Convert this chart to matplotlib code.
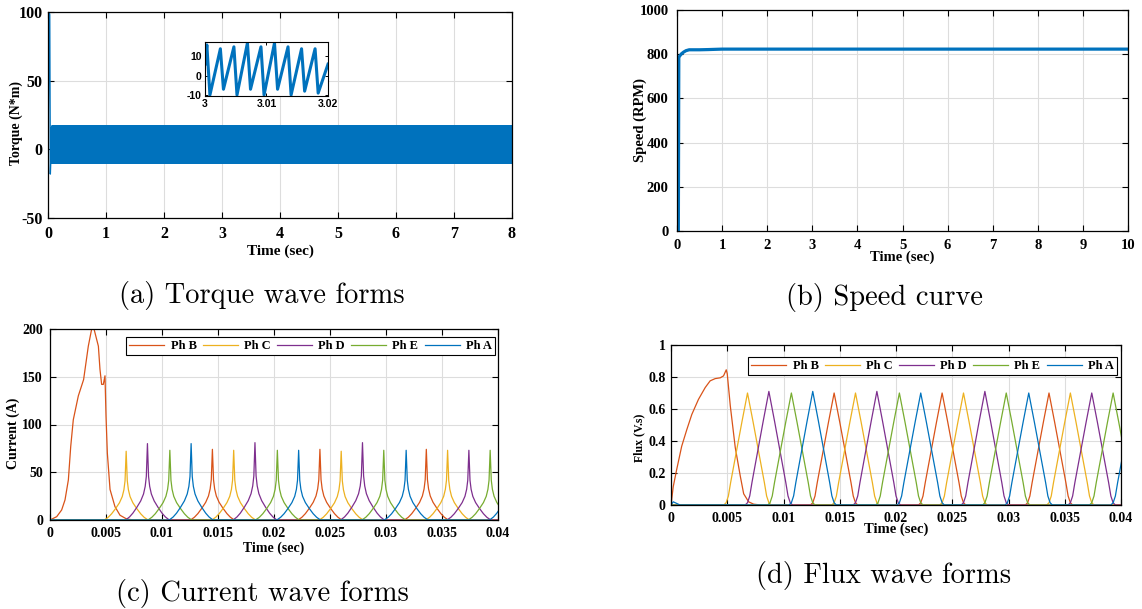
import numpy as np
import matplotlib.pyplot as plt
from matplotlib.ticker import FuncFormatter

plt.rcParams['font.family'] = ['Liberation Serif', 'DejaVu Serif']
plt.rcParams['font.weight'] = 'bold'
plt.rcParams['axes.unicode_minus'] = False

W, H = 1142, 609

# ---- torque: start-up transient, then ripple
torque_start_t = [0.0, 0.02, 0.03, 0.04, 0.06]
torque_start_v = [0, 100, 98, -18, 6]
zoom_t = [3.0, 3.0003, 3.0008, 3.0025, 3.0030, 3.0047, 3.0052, 3.0069, 3.0074,
          3.0091, 3.0096, 3.0113, 3.0118, 3.0135, 3.0140, 3.0157, 3.0162,
          3.0179, 3.0184, 3.02]
zoom_v = [6, 16, -10, 14, -7, 15, -10, 17, -7, 15, -10, 17, -7, 15, -10, 14, -8,
          14, -9, 6]

# ---- speed
speed_t = [0, 0.03, 0.035, 0.04, 0.06, 0.1, 0.15, 0.2, 0.27, 0.5, 0.7, 1.0, 10.0]
speed_v = [0, 0, 400, 785, 792, 802, 810, 816, 820, 820, 821, 823, 823]

# ---- phase currents / fluxes
phases = ['B', 'C', 'D', 'E', 'A']
colors = {'B': '#D95319', 'C': '#EDB120', 'D': '#7E2F8E', 'E': '#77AC30', 'A': '#0072BD'}

ib_start_t = [0, 0.0006, 0.00104, 0.00134, 0.00164, 0.00185, 0.00208, 0.00253, 0.003,
              0.00342, 0.00372, 0.00393, 0.00432, 0.00446, 0.00461, 0.00476, 0.00491,
              0.005, 0.00512, 0.00536, 0.0058, 0.00625, 0.00685, 0.0075]
ib_start_v = [0, 3.5, 10.5, 21, 42, 77, 105, 130, 147, 182, 200, 200, 182, 158, 142,
              142, 151, 109, 70, 32, 14, 5, 1, 0]

fb_start_t = [0, 0.0002, 0.0005, 0.00095, 0.0014, 0.00185, 0.00244, 0.00304, 0.00348,
              0.00393, 0.00438, 0.00467, 0.00491, 0.005, 0.00527, 0.00571, 0.00616,
              0.00646, 0.0069, 0.00735, 0.008]
fb_start_v = [0, 0.115, 0.22, 0.367, 0.47, 0.566, 0.66, 0.734, 0.776, 0.79, 0.795,
              0.807, 0.845, 0.82, 0.62, 0.36, 0.18, 0.07, 0.02, 0.005, 0]
fa_start_t = [0, 0.0002, 0.0008]
fa_start_v = [0, 0.02, 0]

peak_t = [0.0068, 0.0087, 0.0107, 0.0126, 0.0145, 0.0164, 0.0183, 0.0203, 0.0222, 0.0241,
          0.0260, 0.0279, 0.0298, 0.0318, 0.0336, 0.0355, 0.0374, 0.0393, 0.0412]
peak_phase = ['C', 'D', 'E', 'A', 'B', 'C', 'D', 'E', 'A', 'B',
              'C', 'D', 'E', 'A', 'B', 'C', 'D', 'E', 'A']
current_peak = [72, 80, 73, 80, 74, 73, 81, 73, 73, 74, 72, 81, 73, 73, 74, 73, 73, 73, 80]
flux_peak = [0.70, 0.71, 0.70, 0.71, 0.70, 0.70, 0.71, 0.70, 0.70, 0.70,
             0.70, 0.71, 0.70, 0.70, 0.70, 0.70, 0.70, 0.70, 0.70]

# pulse outlines (ms from peak, fraction of peak)
cur_dt = [-1.95, -1.6, -1.3, -0.95, -0.6, -0.35, -0.2, -0.1, 0,
          0.1, 0.2, 0.35, 0.6, 0.95, 1.3, 1.6, 1.95]
cur_frac = [0, 0.04, 0.09, 0.165, 0.25, 0.34, 0.44, 0.57, 1.0,
            0.57, 0.44, 0.34, 0.25, 0.165, 0.09, 0.04, 0]
flux_dt = [-2.1, -1.9, -1.7, -1.5, -1.0, -0.5, 0, 0.5, 1.0, 1.5, 1.7, 1.9, 2.1]
flux_frac = [0, 0.02, 0.08, 0.2, 0.47, 0.74, 1.0, 0.74, 0.47, 0.2, 0.08, 0.02, 0]


def phase_trace(ph, heights, dt, frac, start_t, start_v):
    t = list(start_t)
    v = list(start_v)
    for tp, p, h in zip(peak_t, peak_phase, heights):
        if p != ph:
            continue
        t += [tp + d / 1000 for d in dt]
        v += [h * f for f in frac]
    t.append(0.045)
    v.append(0)
    return t, v


def style_axes(ax, size):
    ax.tick_params(direction='in', top=True, right=True, length=4, width=0.8,
                   labelsize=size)
    ax.grid(True, color='#dddddd', linewidth=0.8)
    ax.set_axisbelow(True)
    for s in ax.spines.values():
        s.set_linewidth(0.9)


fmt = FuncFormatter(lambda x, pos: '%g' % x)

fig = plt.figure(figsize=(W / 100, H / 100), dpi=100)


def add_ax(l, t, r, b):
    return fig.add_axes([l / W, 1 - b / H, (r - l) / W, (b - t) / H])


# (a) torque
ax = add_ax(48, 12, 512, 218)
cycle_t = np.array(zoom_t[1:-1]) - 3.0
n_rep = int(8.0 / 0.0198) + 2
tt = np.concatenate([torque_start_t, (0.06 + np.arange(n_rep)[:, None] * 0.0198 + cycle_t).ravel()])
tv = np.concatenate([torque_start_v, np.tile(zoom_v[1:-1], n_rep)])
ax.plot(tt, tv, color='#0072BD', linewidth=1.0)
ax.set_xlim(0, 8)
ax.set_ylim(-50, 100)
ax.set_xticks(range(0, 9))
ax.set_yticks([-50, 0, 50, 100])
style_axes(ax, 11.5)
ax.tick_params(axis='x', pad=6)
ax.tick_params(axis='y', pad=4)
ax.set_xlabel('Time (sec)', fontsize=11, fontweight='bold')
ax.set_ylabel('Torque (N*m)', fontsize=10, fontweight='bold')
ax.xaxis.set_label_coords(0.5, -0.13)
ax.yaxis.set_label_coords(-0.054, 0.46)

ins = add_ax(205, 42, 328, 96)
ins.plot(zoom_t, zoom_v, color='#0072BD', linewidth=2.2)
ins.set_xlim(3, 3.02)
ins.set_ylim(-10.5, 17.5)
ins.set_xticks([3, 3.01, 3.02])
ins.set_yticks([-10, 0, 10])
ins.xaxis.set_major_formatter(fmt)
ins.tick_params(direction='in', top=True, right=True, length=2.5, width=0.7, pad=2.5,
                labelsize=7.5)
for lab in ins.get_xticklabels() + ins.get_yticklabels():
    lab.set_fontfamily('Liberation Sans')
    lab.set_fontweight('bold')

# (b) speed
ax = add_ax(677, 10, 1128, 231)
ax.plot(speed_t, speed_v, color='#0072BD', linewidth=2.3)
ax.set_xlim(0, 10)
ax.set_ylim(0, 1000)
ax.set_xticks(range(0, 11))
ax.set_yticks(range(0, 1001, 200))
style_axes(ax, 10.5)
ax.tick_params(axis='x', pad=6)
ax.tick_params(axis='y', pad=6)
ax.set_xlabel('Time (sec)', fontsize=10.5, fontweight='bold')
ax.set_ylabel('Speed (RPM)', fontsize=10.5, fontweight='bold')
ax.xaxis.set_label_coords(0.5, -0.09)
ax.yaxis.set_label_coords(-0.0665, 0.5)

# (c) currents
ax = add_ax(50, 329, 498, 520)
for ph in phases:
    st, sv = (ib_start_t, ib_start_v) if ph == 'B' else ([0], [0])
    t, v = phase_trace(ph, current_peak, cur_dt, cur_frac, st, sv)
    ax.plot(t, v, color=colors[ph], linewidth=0.9, label='Ph ' + ph)
ax.set_xlim(0, 0.04)
ax.set_ylim(0, 200)
ax.set_xticks(np.linspace(0, 0.04, 9))
ax.set_yticks(range(0, 201, 50))
ax.xaxis.set_major_formatter(fmt)
style_axes(ax, 10)
ax.tick_params(axis='x', pad=5)
ax.tick_params(axis='y', pad=5)
ax.set_xlabel('Time (sec)', fontsize=10, fontweight='bold')
ax.set_ylabel('Current (A)', fontsize=10, fontweight='bold')
ax.xaxis.set_label_coords(0.5, -0.115)
ax.yaxis.set_label_coords(-0.067, 0.455)
leg = ax.legend(ncol=5, loc='upper right', bbox_to_anchor=(0.993, 0.958),
                borderaxespad=0, fancybox=False, edgecolor='black', framealpha=1,
                fontsize=9, handlelength=2.8, columnspacing=0.5, handletextpad=0.5,
                borderpad=0.25)
leg.get_frame().set_linewidth(0.8)

# (d) flux
ax = add_ax(671, 345, 1121, 505)
for ph in phases:
    if ph == 'B':
        st, sv = fb_start_t, fb_start_v
    elif ph == 'A':
        st, sv = fa_start_t, fa_start_v
    else:
        st, sv = [0], [0]
    t, v = phase_trace(ph, flux_peak, flux_dt, flux_frac, st, sv)
    ax.plot(t, v, color=colors[ph], linewidth=0.9, label='Ph ' + ph)
ax.set_xlim(0, 0.04)
ax.set_ylim(0, 1)
ax.set_xticks(np.linspace(0, 0.04, 9))
ax.set_yticks(np.linspace(0, 1, 6))
ax.xaxis.set_major_formatter(fmt)
ax.yaxis.set_major_formatter(fmt)
style_axes(ax, 10)
ax.tick_params(axis='x', pad=5)
ax.tick_params(axis='y', pad=4)
ax.set_xlabel('Time (sec)', fontsize=10.5, fontweight='bold')
ax.set_ylabel('Flux (V.s)', fontsize=8.5, fontweight='bold')
ax.xaxis.set_label_coords(0.5, -0.1125)
ax.yaxis.set_label_coords(-0.058, 0.42)
leg = ax.legend(ncol=5, loc='upper right', bbox_to_anchor=(0.991, 0.925),
                borderaxespad=0, fancybox=False, edgecolor='black', framealpha=1,
                fontsize=9, handlelength=2.8, columnspacing=0.5, handletextpad=0.5,
                borderpad=0.25)
leg.get_frame().set_linewidth(0.8)

# sub-figure captions
captions = [('(a) Torque wave forms', 262, 295), ('(b) Speed curve', 885, 297),
            ('(c) Current wave forms', 262, 594), ('(d) Flux wave forms', 884, 576)]
for text, x, y in captions:
    fig.text(x / W, 1 - y / H, text, ha='center', va='center', fontfamily='cmr10',
             fontweight='normal', fontsize=20.5)

fig.savefig('out.png', dpi=100)
